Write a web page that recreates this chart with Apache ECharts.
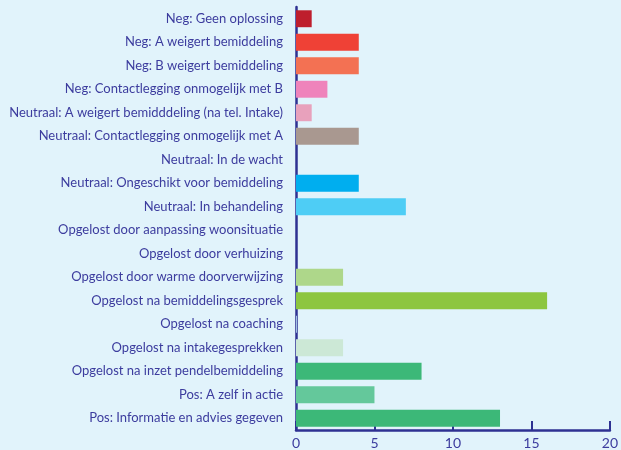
<!DOCTYPE html>
<html><head><meta charset="utf-8">
<script src="https://cdn.jsdelivr.net/npm/echarts@6/dist/echarts.min.js"></script>
<style>html,body{margin:0;padding:0;background:#e1f3fb}#c{width:621px;height:450px}</style>
</head><body><div id="c"></div>
<script>
var categories = [
  "Neg: Geen oplossing",
  "Neg: A weigert bemiddeling",
  "Neg: B weigert bemiddeling",
  "Neg: Contactlegging onmogelijk met B",
  "Neutraal: A weigert bemidddeling (na tel. Intake)",
  "Neutraal: Contactlegging onmogelijk met A",
  "Neutraal: In de wacht",
  "Neutraal: Ongeschikt voor bemiddeling",
  "Neutraal: In behandeling",
  "Opgelost door aanpassing woonsituatie",
  "Opgelost door verhuizing",
  "Opgelost door warme doorverwijzing",
  "Opgelost na bemiddelingsgesprek",
  "Opgelost na coaching",
  "Opgelost na intakegesprekken",
  "Opgelost na inzet pendelbemiddeling",
  "Pos: A zelf in actie",
  "Pos: Informatie en advies gegeven"
];
var values = [1, 4, 4, 2, 1, 4, 0, 4, 7, 0, 0, 3, 16, 0.06, 3, 8, 5, 13];
var colors = ["#be1e2d", "#ef4136", "#f37153", "#ef83bb", "#e8a1bc", "#a99890", "#00aeef", "#00aeef", "#4ecdf5", "#aed78a", "#aed78a", "#aed78a", "#8dc63f", "#a8cbe8", "#cce8d6", "#3cb878", "#64c89b", "#3cb878"];
var xTicks = [0, 5, 10, 15, 20];

var chart = echarts.init(document.getElementById('c'), null, {renderer: 'canvas'});
var axisColor = '#2e3192';
var textColor = '#3c3c9e';
chart.setOption({
  backgroundColor: '#e1f3fb',
  animation: false,
  grid: {left: 296, right: 8, top: 7, bottom: 19, containLabel: false},
  xAxis: {
    type: 'value', min: xTicks[0], max: xTicks[xTicks.length - 1], interval: 5,
    axisLine: {show: true, lineStyle: {color: axisColor, width: 2.5}},
    axisTick: {show: true, inside: true, length: 9, lineStyle: {color: axisColor, width: 2}},
    splitLine: {show: false},
    axisLabel: {color: textColor, fontFamily: 'Lato', fontSize: 14, margin: 6}
  },
  yAxis: {
    type: 'category', data: categories, inverse: true,
    axisLine: {show: true, lineStyle: {color: axisColor, width: 2.5}},
    axisTick: {show: false},
    axisLabel: {color: textColor, fontFamily: 'Lato', fontSize: 13, margin: 13}
  },
  series: [{
    type: 'bar',
    data: values.map(function (v, i) { return {value: v, itemStyle: {color: colors[i]}}; }),
    barCategoryGap: '28%',
    z: 1
  }]
});
</script></body></html>
